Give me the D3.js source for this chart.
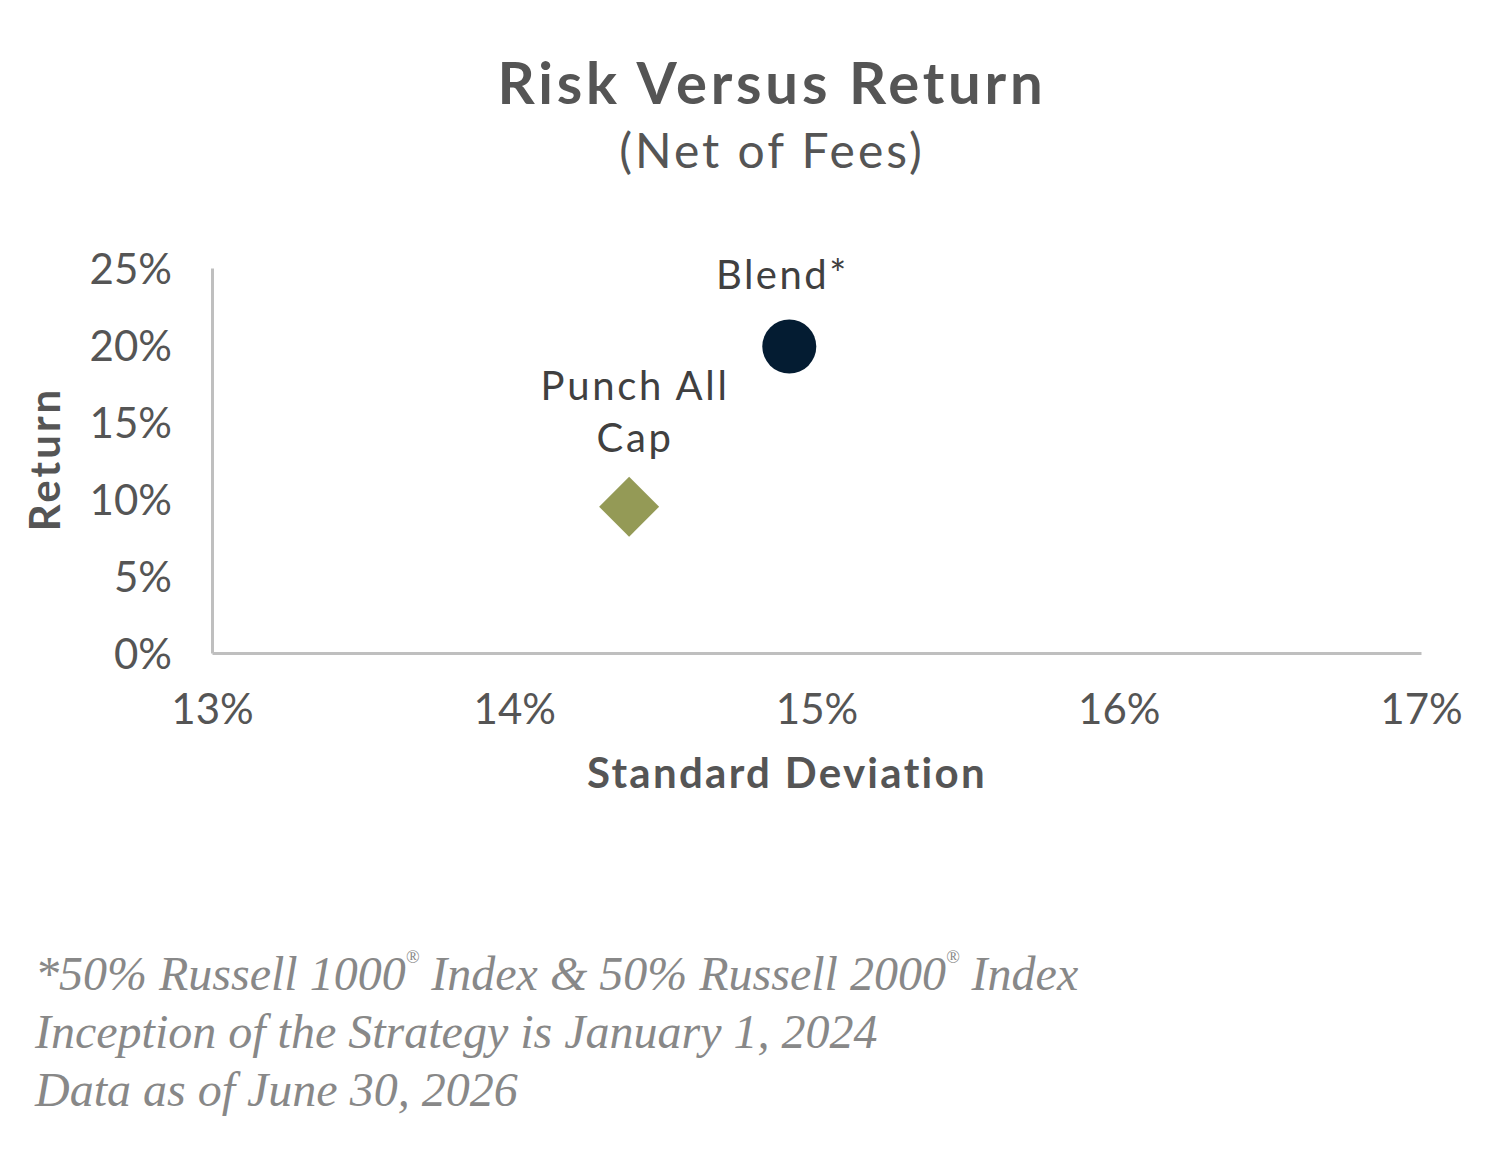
<!DOCTYPE html>
<html>
<head>
<meta charset="utf-8">
<script src="https://cdn.jsdelivr.net/npm/d3@7"></script>
<style>
  body { margin: 0; background: #fff; }
  svg text { font-family: Lato, "Open Sans", sans-serif; }
</style>
</head>
<body>
<svg id="chart" width="1510" height="1149"></svg>
<script>
// Chart data
var seriesNames = ['Blend*', 'Punch All Cap'];
var stdDev = [14.91, 14.38];
var returns = [19.9, 9.5];
var xTicks = [13, 14, 15, 16, 17];
var yTicks = [0, 5, 10, 15, 20, 25];

var svg = d3.select('#chart');
var margin = {left: 212, right: 89, top: 268, bottom: 496};
var width = 1510, height = 1149;

var x = d3.scaleLinear().domain([13, 17]).range([margin.left, width - margin.right]);
var y = d3.scaleLinear().domain([0, 25]).range([height - margin.bottom, margin.top]);

// Titles
svg.append('text')
    .attr('x', 772).attr('y', 104)
    .attr('text-anchor', 'middle')
    .style('font-size', '58px').style('font-weight', 'bold').style('fill', '#555')
    .style('letter-spacing', '3.8px')
    .text('Risk Versus Return');
svg.append('text')
    .attr('x', 772).attr('y', 168)
    .attr('text-anchor', 'middle')
    .style('font-size', '48px').style('fill', '#555')
    .style('letter-spacing', '3px')
    .text('(Net of Fees)');

// Axes
var xAxis = d3.axisBottom(x).tickValues(xTicks).tickSize(0).tickPadding(41)
    .tickFormat(function (d) { return d + '%'; });
var yAxis = d3.axisLeft(y).tickValues(yTicks).tickSize(0).tickPadding(40)
    .tickFormat(function (d) { return d + '%'; });

var gx = svg.append('g').attr('transform', 'translate(0,' + y(0) + ')').call(xAxis);
var gy = svg.append('g').attr('transform', 'translate(' + x(13) + ',0)').call(yAxis);

[gx, gy].forEach(function (g) {
    g.select('.domain').attr('stroke', '#bfbfbf').attr('stroke-width', 3);
    g.selectAll('.tick text')
        .style('font-size', '42px').style('fill', '#555')
        .style('font-family', 'Lato, "Open Sans", sans-serif');
});
gx.selectAll('.tick text').attr('dy', '0.71em');
gy.selectAll('.tick text').attr('dy', '0.36em');

svg.append('text')
    .attr('x', 787).attr('y', 788)
    .attr('text-anchor', 'middle')
    .style('font-size', '42px').style('font-weight', 'bold').style('fill', '#555')
    .style('letter-spacing', '2.3px')
    .text('Standard Deviation');
svg.append('text')
    .attr('transform', 'translate(60,459) rotate(-90)')
    .attr('text-anchor', 'middle')
    .style('font-size', '42px').style('font-weight', 'bold').style('fill', '#555')
    .style('letter-spacing', '3px')
    .text('Return');

// Points
svg.append('circle')
    .attr('cx', x(stdDev[0])).attr('cy', y(returns[0]))
    .attr('r', 27).attr('fill', '#041c32');
svg.append('path')
    .attr('d', d3.symbol().type(d3.symbolSquare).size(1800)())
    .attr('transform', 'translate(' + x(stdDev[1]) + ',' + y(returns[1]) + ') rotate(45)')
    .attr('fill', '#949a56');

// Point labels
svg.append('text')
    .attr('x', x(stdDev[0]) - 7).attr('y', y(returns[0]) - 58)
    .attr('text-anchor', 'middle')
    .style('font-size', '40px').style('fill', '#404040')
    .style('letter-spacing', '2.5px')
    .text(seriesNames[0]);
var lbl = svg.append('text')
    .attr('x', x(stdDev[1]) + 6).attr('y', y(returns[1]) - 107)
    .attr('text-anchor', 'middle')
    .style('font-size', '40px').style('fill', '#404040')
    .style('letter-spacing', '2.7px');
lbl.append('tspan').text('Punch All');
lbl.append('tspan').attr('x', x(stdDev[1]) + 6).attr('dy', 52).text('Cap');

// Footnotes
var notes = [
    [['*50% Russell 1000', false], ['®', true], [' Index & 50% Russell 2000', false], ['®', true], [' Index', false]],
    [['Inception of the Strategy is January 1, 2024', false]],
    [['Data as of June 30, 2026', false]]
];
notes.forEach(function (parts, i) {
    var t = svg.append('text')
        .attr('x', 35).attr('y', 990 + i * 58)
        .style('font-family', '"Liberation Serif", "DejaVu Serif", serif')
        .style('font-style', 'italic')
        .style('font-size', '48px').style('fill', '#888');
    parts.forEach(function (p) {
        var s = t.append('tspan').text(p[0]);
        if (p[1]) s.style('font-size', '18px').attr('baseline-shift', '150%');
    });
});
</script>
</body>
</html>
